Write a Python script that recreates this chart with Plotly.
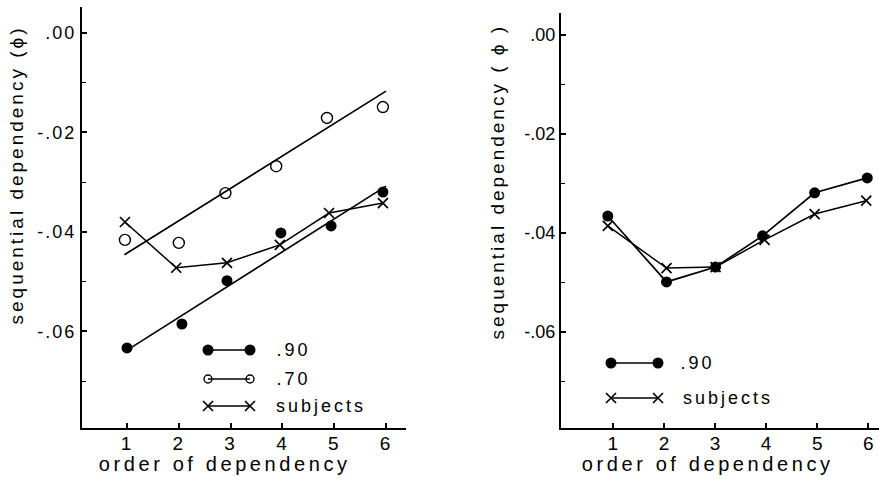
import plotly.graph_objects as go

# ---------------- data ----------------
# Left panel
left_x_90 = [1.00, 2.06, 2.93, 3.97, 4.94, 5.94]
left_y_90 = [-0.0633, -0.0585, -0.0498, -0.0402, -0.0388, -0.0320]
left_x_70 = [0.96, 2.00, 2.90, 3.88, 4.86, 5.94]
left_y_70 = [-0.0416, -0.0422, -0.0322, -0.0268, -0.0171, -0.0149]
left_x_subj = [0.96, 1.95, 2.93, 3.95, 4.90, 5.94]
left_y_subj = [-0.0380, -0.0472, -0.0462, -0.0426, -0.0362, -0.0342]
# fitted straight lines (end points as drawn)
fit_x = [0.95, 6.0]
fit_y_90 = [-0.0641, -0.0308]
fit_y_70 = [-0.0446, -0.0117]

# Right panel
right_x_90 = [0.90, 2.05, 3.01, 3.93, 4.95, 5.98]
right_y_90 = [-0.0366, -0.0499, -0.0469, -0.0406, -0.0319, -0.0289]
right_x_subj = [0.90, 2.05, 3.01, 3.97, 4.95, 5.96]
right_y_subj = [-0.0386, -0.0471, -0.0469, -0.0414, -0.0362, -0.0335]

x_ticks = [1, 2, 3, 4, 5, 6]
x_ticktext = ["1", "2", "3", "4", "5", "6"]
y_major = [0.0, -0.02, -0.04, -0.06]
y_major_text = [".00", "-.02", "-.04", "-.06"]
y_minor = [-0.01, -0.03, -0.05, -0.07]

legend_left = [".90", ".70", "subjects"]
legend_right = [".90", "subjects"]
y_title_left = "sequential dependency (ϕ)"
y_title_right = "sequential dependency ( ϕ )"
x_title = "order of dependency"

# ---------------- styling ----------------
W, H = 879, 480
FONT = "Liberation Sans"
BLACK = "#000000"

def px(x):
    return x / W

def py(y):
    return 1 - y / H

fig = go.Figure()

line_style = dict(color=BLACK, width=1.7)
filled = dict(symbol="circle", size=11, color=BLACK)
opened = dict(symbol="circle-open", size=11, color=BLACK, line=dict(width=1.4, color=BLACK))
cross = dict(symbol="x-thin-open", size=10, color=BLACK, line=dict(width=1.7, color=BLACK))

# left panel
fig.add_trace(go.Scatter(x=fit_x, y=fit_y_70, mode="lines", line=line_style,
                         xaxis="x", yaxis="y", showlegend=False))
fig.add_trace(go.Scatter(x=fit_x, y=fit_y_90, mode="lines", line=line_style,
                         xaxis="x", yaxis="y", showlegend=False))
fig.add_trace(go.Scatter(x=left_x_70, y=left_y_70, mode="markers", marker=opened,
                         xaxis="x", yaxis="y", showlegend=False))
fig.add_trace(go.Scatter(x=left_x_90, y=left_y_90, mode="markers", marker=filled,
                         xaxis="x", yaxis="y", showlegend=False))
fig.add_trace(go.Scatter(x=left_x_subj, y=left_y_subj, mode="lines+markers",
                         line=dict(color=BLACK, width=1.5), marker=cross,
                         xaxis="x", yaxis="y", showlegend=False))

# right panel
fig.add_trace(go.Scatter(x=right_x_90, y=right_y_90, mode="lines+markers",
                         line=dict(color=BLACK, width=1.7), marker=filled,
                         xaxis="x2", yaxis="y2", showlegend=False))
fig.add_trace(go.Scatter(x=right_x_subj, y=right_y_subj, mode="lines+markers",
                         line=dict(color=BLACK, width=1.5), marker=cross,
                         xaxis="x2", yaxis="y2", showlegend=False))

# hand-drawn style legend keys on a full-figure pixel axis
leg_markers_left = [filled, dict(symbol="circle-open", size=8, color=BLACK, line=dict(width=1.4, color=BLACK)), cross]
leg_rows_left = [350, 379, 406]
for row, mk in zip(leg_rows_left, leg_markers_left):
    fig.add_trace(go.Scatter(x=[208, 250], y=[row, row], mode="lines+markers",
                             line=dict(color=BLACK, width=1.7), marker=mk,
                             xaxis="x3", yaxis="y3", showlegend=False, hoverinfo="skip"))
leg_markers_right = [filled, cross]
leg_rows_right = [363, 398]
for row, mk in zip(leg_rows_right, leg_markers_right):
    fig.add_trace(go.Scatter(x=[611, 658], y=[row, row], mode="lines+markers",
                             line=dict(color=BLACK, width=1.7), marker=mk,
                             xaxis="x3", yaxis="y3", showlegend=False, hoverinfo="skip"))

tickfont = dict(family=FONT, size=18, color=BLACK)

def xax(domain, rng, anchor):
    return dict(domain=domain, range=rng, anchor=anchor, showline=True, linecolor=BLACK,
                linewidth=2, ticks="inside", ticklen=5, tickwidth=1.5, tickcolor=BLACK,
                tickvals=x_ticks, ticktext=x_ticktext, showgrid=False, zeroline=False,
                ticklabelstandoff=-3,
                tickfont=dict(family=FONT, size=19, color=BLACK), fixedrange=True)

def yax(domain, rng, anchor):
    return dict(domain=domain, range=rng, anchor=anchor, showline=True, linecolor=BLACK,
                linewidth=2, ticks="inside", ticklen=5, tickwidth=1.5, tickcolor=BLACK,
                tickvals=y_major, ticktext=y_major_text, showgrid=False, zeroline=False,
                minor=dict(tickvals=y_minor, ticks="inside", ticklen=4, tickwidth=1.3,
                           tickcolor=BLACK, showgrid=False),
                tickfont=tickfont, fixedrange=True)

fig.update_layout(
    width=W, height=H,
    margin=dict(l=0, r=0, t=0, b=0),
    paper_bgcolor="white", plot_bgcolor="rgba(0,0,0,0)",
    xaxis=xax([px(82), px(406)], [0.131, 6.386], "y"),
    yaxis=yax([py(428), py(7)], [-0.0794, 0.0052], "x"),
    xaxis2=xax([px(561), 1.0], [-0.016, 6.21], "y2"),
    yaxis2=yax([py(428), py(13)], [-0.0794, 0.0044], "x2"),
    xaxis3=dict(domain=[0, 1], range=[0, W], visible=False, anchor="y3", fixedrange=True),
    yaxis3=dict(domain=[0, 1], range=[H, 0], visible=False, anchor="x3", fixedrange=True),
    showlegend=False,
)

ann_font = dict(family=FONT, size=19, color=BLACK)
xt_font = dict(family=FONT, size=20, color=BLACK)
annotations = [
    dict(text=x_title, x=px(225), y=py(464), font=xt_font),
    dict(text=x_title, x=px(707), y=py(464), font=xt_font),
    dict(text=y_title_left, x=px(17), y=py(175), textangle=-90, font=ann_font),
    dict(text=y_title_right, x=px(497), y=py(182), textangle=-90, font=ann_font),
]
leg_font = dict(family=FONT, size=18, color=BLACK)
for txt, row, cx in zip(legend_left, leg_rows_left, [293, 293, 321]):
    annotations.append(dict(text=txt, x=px(cx), y=py(row), font=leg_font))
for txt, row, cx in zip(legend_right, leg_rows_right, [697, 728]):
    annotations.append(dict(text=txt, x=px(cx), y=py(row), font=leg_font))
for a in annotations:
    a.update(xref="paper", yref="paper", showarrow=False, xanchor="center", yanchor="middle")
fig.update_layout(annotations=annotations)

post = """
document.body.style.margin = '0';
document.body.style.padding = '0';
var gd = document.getElementById('{plot_id}');
gd.querySelectorAll('.annotation-text').forEach(function(t){
    t.style.letterSpacing = (t.textContent === 'order of dependency') ? '3.6px' : '3px';
});
gd.querySelectorAll('.ytick text, .xtick text').forEach(function(t){ t.style.letterSpacing = '2px'; });
"""

fig.write_html("out.html", post_script=post, config={"displayModeBar": False})
